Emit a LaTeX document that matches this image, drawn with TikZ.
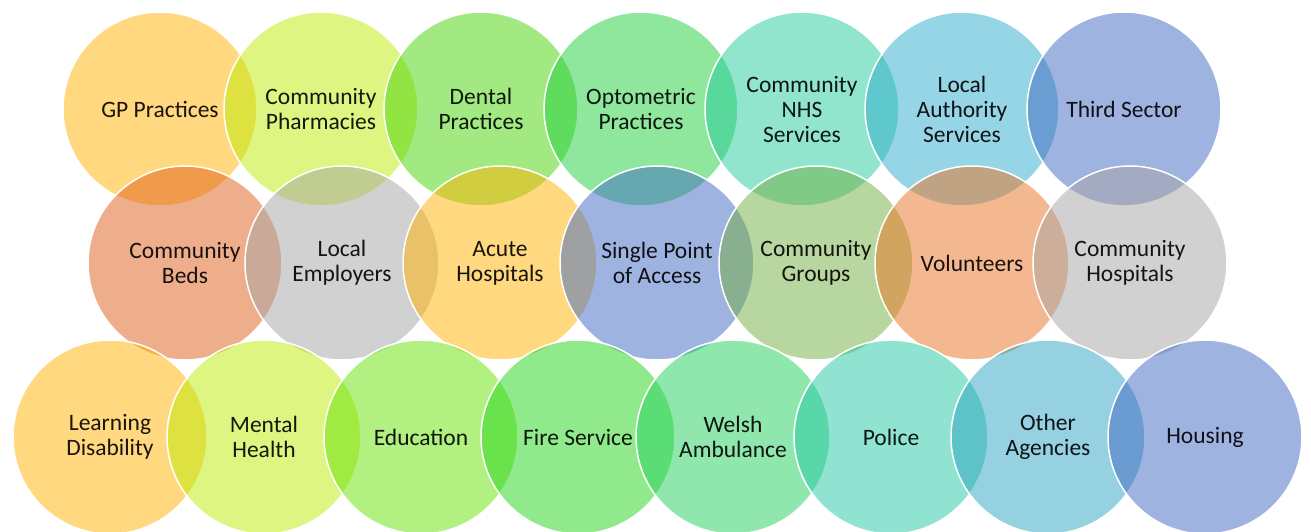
\documentclass[tikz,border=0pt]{standalone}
\usepackage{fontspec}
\setmainfont{Carlito}
\definecolor{cYel}{RGB}{255,179,0}
\definecolor{cYG}{RGB}{190,236,5}
\definecolor{cLime}{RGB}{70,212,5}
\definecolor{cGrn}{RGB}{30,208,60}
\definecolor{cTeal}{RGB}{35,205,155}
\definecolor{cCyan}{RGB}{45,172,205}
\definecolor{cBlue}{RGB}{65,105,195}
\definecolor{cOrg}{RGB}{225,95,25}
\definecolor{cGray}{RGB}{165,165,165}
\definecolor{cOlive}{RGB}{115,175,65}
\definecolor{cOrg2}{RGB}{235,115,35}
\definecolor{cLime2}{RGB}{100,226,5}
\definecolor{cGrn2}{RGB}{35,214,25}
\definecolor{cSea}{RGB}{35,209,95}
\definecolor{cAqua}{RGB}{35,201,165}
\definecolor{cSky}{RGB}{45,165,195}
\tikzset{bub/.style={circle,minimum size=194pt,inner sep=0pt,draw=white,line width=1.5pt,
  fill opacity=0.5,text opacity=0.9,text=black,align=center,
  font=\fontsize{23.5}{25}\selectfont}}
\begin{document}
\begin{tikzpicture}[x=1pt,y=-1pt]
\fill[white] (0,0) rectangle (1311,531);
\useasboundingbox (0,0) rectangle (1311,531);
\clip (0,0) rectangle (1311,531);
% row 1
\node[bub,fill=cYel]  (r1a) at (160,109) {GP Practices};
\node[bub,fill=cYG]   (r1b) at (321,109) {Community\\Pharmacies};
\node[bub,fill=cLime] (r1c) at (481,109) {Dental\\Practices};
\node[bub,fill=cGrn]  (r1d) at (641,109) {Optometric\\Practices};
\node[bub,fill=cTeal] (r1e) at (802,109) {Community\\NHS\\Services};
\node[bub,fill=cCyan] (r1f) at (962,109) {Local\\Authority\\Services};
\node[bub,fill=cBlue] (r1g) at (1124,109) {Third Sector};
% row 2
\node[bub,fill=cOrg]   (r2a) at (185,263) {Community\\Beds};
\node[bub,fill=cGray]  (r2b) at (342,263) {Local\\Employers};
\node[bub,fill=cYel]   (r2c) at (500,263) {Acute\\Hospitals};
\node[bub,fill=cBlue]  (r2d) at (657,263) {Single Point\\of Access};
\node[bub,fill=cOlive] (r2e) at (816,263) {Community\\Groups};
\node[bub,fill=cOrg2]  (r2f) at (972,263) {Volunteers};
\node[bub,fill=cGray]  (r2g) at (1130,263) {Community\\Hospitals};
% row 3
\node[bub,fill=cYel]   (r3a) at (110,437) {Learning\\Disability};
\node[bub,fill=cYG]    (r3b) at (264,437) {Mental\\Health};
\node[bub,fill=cLime2] (r3c) at (421,437) {Education};
\node[bub,fill=cGrn2]  (r3d) at (578,437) {Fire Service};
\node[bub,fill=cSea]   (r3e) at (733,437) {Welsh\\Ambulance};
\node[bub,fill=cAqua]  (r3f) at (891,437) {Police};
\node[bub,fill=cSky]   (r3g) at (1048,437) {Other\\Agencies};
\node[bub,fill=cBlue]  (r3h) at (1205,437) {Housing};
\end{tikzpicture}
\end{document}
